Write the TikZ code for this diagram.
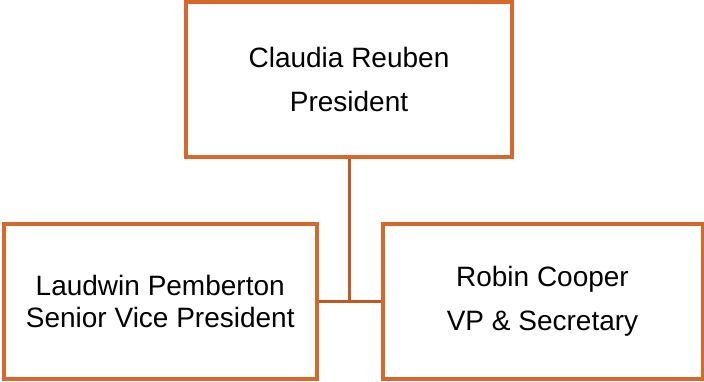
\documentclass[tikz,border=0pt]{standalone}
\usepackage{fontspec}
\setmainfont{Liberation Sans}
\usetikzlibrary{positioning}
\definecolor{boxorange}{RGB}{214,104,44}
\definecolor{lineorange}{RGB}{196,88,34}
\tikzset{
	member/.style={draw=boxorange, line width=4pt, rectangle, inner sep=0pt, align=center, minimum height=155pt},
	link/.style={draw=lineorange, line width=3pt}
}

\begin{document}
\begin{tikzpicture}[x=1pt, y=-1pt]
			%%%%% START %%%%%
			
			\useasboundingbox (0, 0) rectangle (704, 381);
			
			\node[member, minimum width=326pt, minimum height=155.5pt, font=\fontsize{28}{44}\selectfont] (president) at (349, 79.25) {Claudia Reuben\\President};
			\node[member, minimum width=312.5pt, font=\fontsize{28}{32}\selectfont] (seniorvp) at (160.25, 301) {Laudwin Pemberton\\Senior Vice President};
			\node[member, minimum width=320pt, font=\fontsize{28}{44}\selectfont] (secretary) at (542.5, 301) {Robin Cooper\\VP \& Secretary};
			
			\coordinate (hub) at (president.south |- seniorvp.east);
			\draw[link] (president.south) -- (hub);
			\draw[link] (seniorvp.east) -- (secretary.west);
			
			%%%%% END %%%%%
		\end{tikzpicture}
\end{document}
